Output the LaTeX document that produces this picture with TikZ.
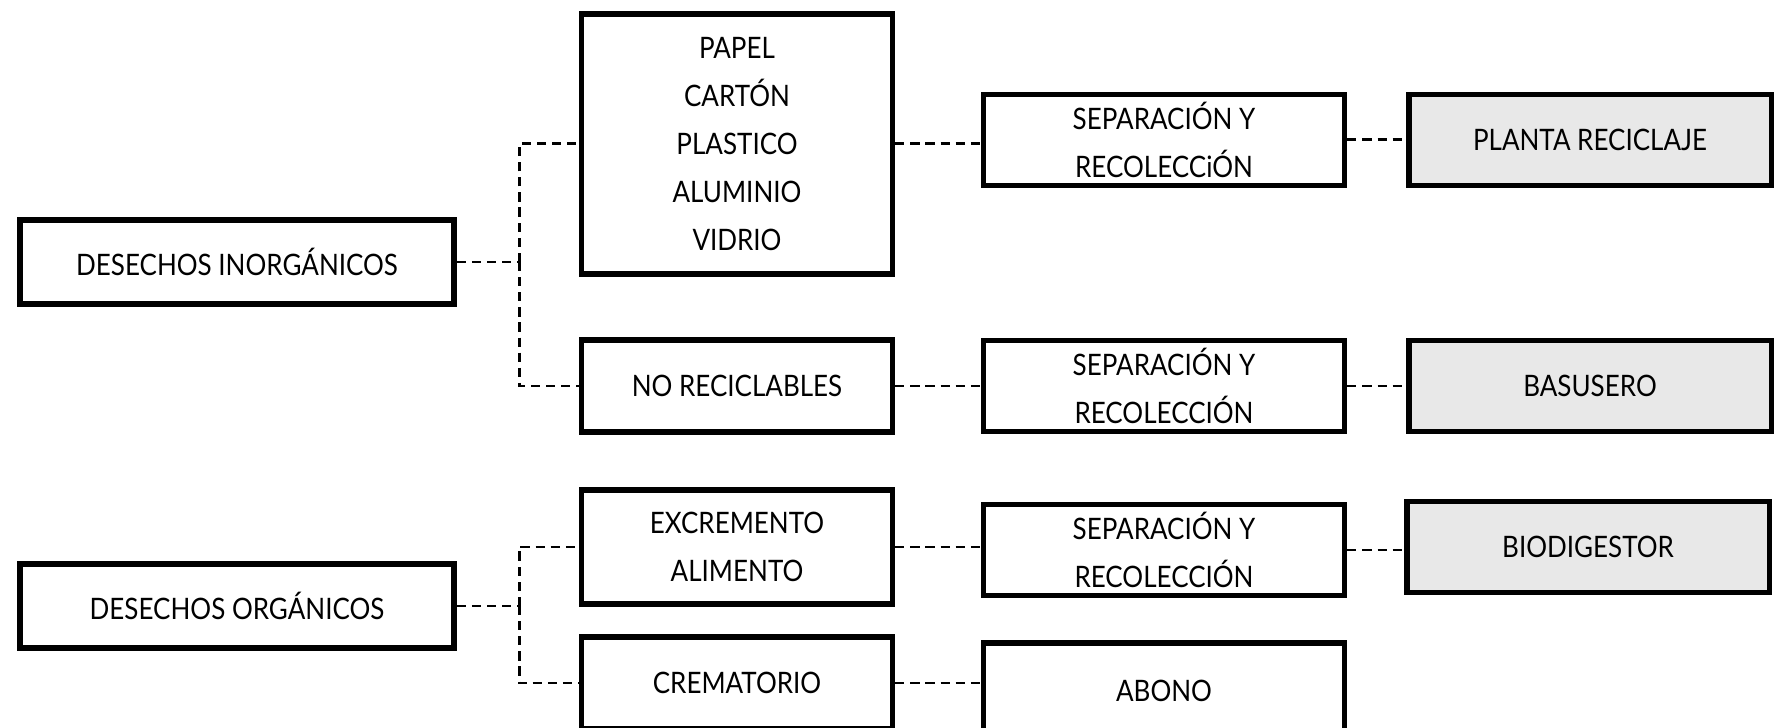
\documentclass[tikz,border=0pt]{standalone}
\usepackage{fontspec}
\setmainfont{Lato}[FakeStretch=0.88]
\usepackage{tikz}
\usetikzlibrary{positioning,calc}
\definecolor{wsgray}{HTML}{E8E8E8}

\begin{document}
\begin{tikzpicture}[
  x=0.01cm, y=-0.01cm,
  font=\fontsize{8.4}{13.7}\selectfont,
  box/.style={draw, line width=1.5pt, align=center, inner sep=2pt, fill=white},
  src/.style={box, minimum width=4.34cm, minimum height=0.84cm},
  mid/.style={box, minimum width=3.11cm},
  sepbox/.style={box, minimum width=3.61cm, minimum height=0.91cm},
  dest/.style={box, fill=wsgray, minimum width=3.62cm, minimum height=0.91cm},
  link/.style={line width=0.85pt, dash pattern=on 2.6pt off 1.7pt}
]
\useasboundingbox (0,0) rectangle (1777,728);
% Left column: waste types
\node[src] (inorg) at (237,262) {DESECHOS INORGÁNICOS};
\node[src] (org) at (237,606) {DESECHOS ORGÁNICOS};
% Second column: materials
\node[mid, minimum height=2.6cm] (mat) at (737,144) {PAPEL\\CARTÓN\\PLASTICO\\ALUMINIO\\VIDRIO};
\node[mid, minimum height=0.92cm] (norec) at (737,386) {NO RECICLABLES};
\node[mid, minimum height=1.14cm] (exc) at (737,547) {EXCREMENTO\\ALIMENTO};
\node[mid, minimum height=0.92cm] (crem) at (737,683) {CREMATORIO};
% Third column: collection
\node[sepbox] (sepa) at (1164,140) {SEPARACIÓN Y\\RECOLECCiÓN};
\node[sepbox] (sepb) at (1164,386) {SEPARACIÓN Y\\RECOLECCIÓN};
\node[sepbox] (sepc) at (1164,550) {SEPARACIÓN Y\\RECOLECCIÓN};
\node[sepbox, minimum height=0.96cm] (abono) at (1164,691) {ABONO};
% Right column: destinations
\node[dest] (planta) at (1590,140) {PLANTA RECICLAJE};
\node[dest] (basura) at (1590,386) {BASUSERO};
\node[dest] (bio) at (1588,547) {BIODIGESTOR};
% Forks
\coordinate (forka) at (519,262);
\coordinate (forkb) at (519,606);
\draw[link] (inorg.east) -- (forka);
\draw[link] (forka) |- (mat.west);
\draw[link] (forka) |- (norec.west);
\draw[link] (org.east) -- (forkb);
\draw[link] (forkb) |- (exc.west);
\draw[link] (forkb) |- (crem.west);
% Rows
\draw[link] (mat.east) -- (mat.east -| sepa.west);
\draw[link] (norec.east) -- (sepb.west);
\draw[link] (exc.east) -- (exc.east -| sepc.west);
\draw[link] (crem.east) -- (crem.east -| abono.west);
\draw[link] (sepa.east) -- (planta.west);
\draw[link] (sepb.east) -- (basura.west);
\draw[link] (sepc.east) -- (sepc.east -| bio.west);
\end{tikzpicture}
\end{document}
